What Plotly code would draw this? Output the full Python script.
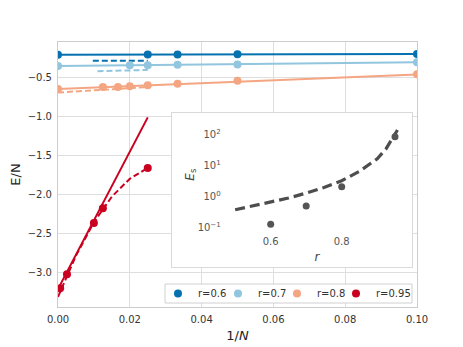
import plotly.graph_objects as go

# ---- data: main panel (E/N vs 1/N) ----
series_names = ["r=0.6", "r=0.7", "r=0.8", "r=0.95"]
colors = ["#0571b0", "#92c5de", "#f4a582", "#ca0020"]

x_r06 = [0.0, 0.025, 0.0333, 0.05, 0.1]
y_r06 = [-0.205, -0.200, -0.200, -0.199, -0.195]

x_r07 = [0.0, 0.02, 0.025, 0.0333, 0.05, 0.1]
y_r07 = [-0.350, -0.340, -0.340, -0.333, -0.330, -0.300]

x_r08 = [0.0, 0.0125, 0.0167, 0.02, 0.025, 0.0333, 0.05, 0.1]
y_r08 = [-0.645, -0.620, -0.620, -0.610, -0.595, -0.577, -0.540, -0.456]

x_r095 = [0.0006, 0.0025, 0.01, 0.0125, 0.025]
y_r095 = [-3.21, -3.03, -2.37, -2.18, -1.66]

# solid linear fits
fit_x = [[0.0, 0.1], [0.0, 0.1], [0.0, 0.1], [0.0, 0.025]]
fit_y = [[-0.205, -0.195], [-0.350, -0.300], [-0.645, -0.458], [-3.22, -1.01]]

# dashed fits
dfit_x = [[0.0097, 0.025], [0.011, 0.025], [0.0, 0.025], [0.0, 0.005, 0.01, 0.015, 0.02, 0.025]]
dfit_y = [[-0.28, -0.28], [-0.415, -0.400], [-0.690, -0.620],
          [-3.32, -2.79, -2.36, -2.03, -1.80, -1.66]]

# ---- data: inset (E_s vs r) ----
inset_r = [0.6, 0.7, 0.8, 0.95]
inset_Es = [0.13, 0.50, 2.1, 88]
curve_r = [0.5, 0.55, 0.6, 0.65, 0.7, 0.75, 0.8, 0.85, 0.9, 0.925, 0.957]
curve_Es = [0.38, 0.51, 0.66, 0.91, 1.32, 2.0, 3.3, 6.7, 17, 36, 145]

xticks = [0.0, 0.02, 0.04, 0.06, 0.08, 0.1]
xticklabels = ["0.00", "0.02", "0.04", "0.06", "0.08", "0.10"]
inset_yticks = [0.1, 1, 10, 100]
inset_yticklabels = ["10<sup>\u22121</sup>", "10<sup>0</sup>", "10<sup>1</sup>", "10<sup>2</sup>"]

# page body has an 8px margin: figure is drawn 8px right/down of window origin
OFF = 8
W, H = 463 - OFF, 347 - OFF
# plot area in window pixels
PL, PR, PT, PB = 58, 417, 42, 307
pw, ph = PR - PL, PB - PT
ml, mt = PL - OFF, PT - OFF
mr, mb = W - ml - pw, H - mt - ph

def dx(px):
    return (px - PL) / pw

def dy(py):
    return (PB - py) / ph

fig = go.Figure()

pts = [(x_r06, y_r06), (x_r07, y_r07), (x_r08, y_r08), (x_r095, y_r095)]
for i, name in enumerate(series_names):
    fig.add_trace(go.Scatter(x=fit_x[i], y=fit_y[i], mode="lines",
                             line=dict(color=colors[i], width=2),
                             showlegend=False, hoverinfo="skip"))
    fig.add_trace(go.Scatter(x=dfit_x[i], y=dfit_y[i], mode="lines",
                             line=dict(color=colors[i], width=2, dash="6px,3px"),
                             showlegend=False, hoverinfo="skip"))
leg_ids = ["legend", "legend2", "legend3", "legend4"]
for i, name in enumerate(series_names):
    fig.add_trace(go.Scatter(x=pts[i][0], y=pts[i][1], mode="markers", name=name,
                             marker=dict(color=colors[i], size=8),
                             legend=leg_ids[i], showlegend=True))

# white inset box (subplot 2) with light border
fig.add_trace(go.Scatter(x=[None], y=[None], xaxis="x2", yaxis="y2",
                         showlegend=False, hoverinfo="skip"))

# inset plot (subplot 3)
fig.add_trace(go.Scatter(x=curve_r, y=curve_Es, mode="lines", xaxis="x3", yaxis="y3",
                         line=dict(color="#4d4d4d", width=3.2, dash="10px,5px"),
                         showlegend=False, hoverinfo="skip", cliponaxis=False))
fig.add_trace(go.Scatter(x=inset_r, y=inset_Es, mode="markers", xaxis="x3", yaxis="y3",
                         marker=dict(color="#555555", size=7),
                         showlegend=False, hoverinfo="skip", cliponaxis=False))

font = "DejaVu Sans, sans-serif"
grid = "#dedede"

fig.add_shape(type="rect", xref="x3 domain", yref="y3 domain", x0=0, x1=1, y0=0, y1=1,
              fillcolor="#ebebeb", line=dict(width=0), layer="below")
# legend frame
fig.add_shape(type="rect", xref="paper", yref="paper", x0=dx(165), x1=dx(412),
              y0=dy(303), y1=dy(284), fillcolor="white",
              line=dict(color="#d0d0d0", width=1), layer="above")

leg_common = dict(orientation="h", yanchor="middle", y=dy(293.5), xanchor="left",
                  bgcolor="rgba(0,0,0,0)", borderwidth=0,
                  font=dict(size=10, color="#333333"), itemwidth=30)
marker_px = [178, 238, 297, 356]

fig.update_layout(
    width=W, height=H,
    margin=dict(l=ml, r=mr, t=mt, b=mb, pad=0, autoexpand=False),
    paper_bgcolor="white", plot_bgcolor="white",
    font=dict(family=font, size=10, color="#333333"),
    xaxis=dict(domain=[0, 1], range=[0, 0.1], tickvals=xticks, ticktext=xticklabels,
               automargin=False,
               showgrid=True, gridcolor=grid, gridwidth=1, zeroline=False,
               showline=True, linecolor="#cccccc", linewidth=1, mirror=True,
               ticks="outside", ticklen=3, tickcolor="rgba(0,0,0,0)",
               title=dict(text="1/<i>N</i>", font=dict(size=13, color="#222222"), standoff=6)),
    yaxis=dict(domain=[0, 1], range=[-3.45, -0.04], dtick=0.5, tick0=0, tickformat=".1f",
               automargin=False,
               showgrid=True, gridcolor=grid, gridwidth=1, zeroline=False,
               showline=True, linecolor="#cccccc", linewidth=1, mirror=True,
               ticks="outside", ticklen=3, tickcolor="rgba(0,0,0,0)",
               title=dict(text="E/N", font=dict(size=13, color="#222222"), standoff=5)),
    xaxis2=dict(domain=[dx(172), dx(412)], range=[0, 1], anchor="y2", automargin=False,
                showgrid=False, zeroline=False, showticklabels=False, ticks="",
                showline=True, linecolor="#d9d9d9", linewidth=1, mirror=True),
    yaxis2=dict(domain=[dy(267), dy(113)], range=[0, 1], anchor="x2", automargin=False,
                showgrid=False, zeroline=False, showticklabels=False, ticks="",
                showline=True, linecolor="#d9d9d9", linewidth=1, mirror=True),
    xaxis3=dict(domain=[dx(227.7), dx(406)], range=[0.479, 0.981], anchor="y3",
                automargin=False, tickvals=[0.6, 0.8], ticktext=["0.6", "0.8"],
                showgrid=True, gridcolor="white", gridwidth=1, zeroline=False,
                showline=False, ticks="outside", ticklen=4, tickcolor="rgba(0,0,0,0)",
                tickfont=dict(size=10, color="#555555"),
                title=dict(text="<i>r</i>", font=dict(size=12, color="#444444"), standoff=6)),
    yaxis3=dict(domain=[dy(227.7), dy(121.7)], type="log", range=[-1, 2.43], anchor="x3",
                automargin=False, tickvals=inset_yticks, ticktext=inset_yticklabels,
                showgrid=True, gridcolor="white", gridwidth=1, zeroline=False,
                showline=False, ticks="outside", ticklen=4, tickcolor="rgba(0,0,0,0)",
                tickfont=dict(size=10, color="#555555"),
                title=dict(text="<i>E</i><sub>s</sub>", font=dict(size=12, color="#444444"), standoff=0)),
    legend=dict(x=dx(marker_px[0] - 20), **leg_common),
    legend2=dict(x=dx(marker_px[1] - 20), **leg_common),
    legend3=dict(x=dx(marker_px[2] - 20), **leg_common),
    legend4=dict(x=dx(marker_px[3] - 20), **leg_common),
    showlegend=True,
)

fig.write_html("out.html")
